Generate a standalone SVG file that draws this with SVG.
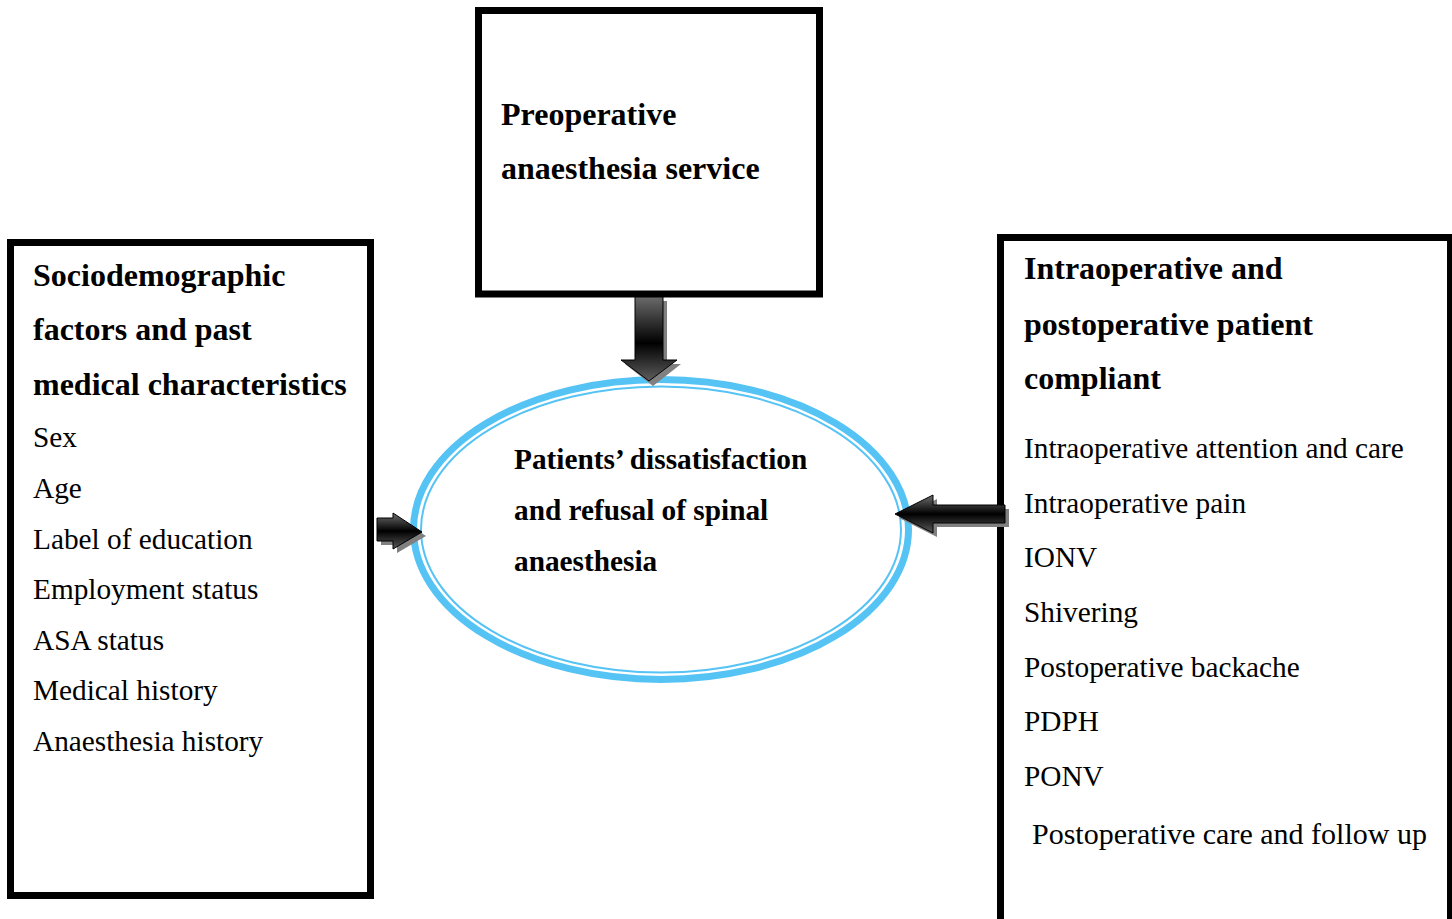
<svg xmlns="http://www.w3.org/2000/svg" width="1452" height="919" viewBox="0 0 1452 919">
<defs>
<linearGradient id="ag" x1="0" y1="0" x2="0" y2="1">
<stop offset="0" stop-color="#6e6e6e"/>
<stop offset="0.5" stop-color="#000"/>
<stop offset="1" stop-color="#5a5a5a"/>
</linearGradient>
<linearGradient id="agv" x1="0" y1="0" x2="0" y2="1">
<stop offset="0" stop-color="#6a6a6a"/>
<stop offset="0.55" stop-color="#000"/>
<stop offset="1" stop-color="#5e5e5e"/>
</linearGradient>
</defs>
<style>
.box{fill:#fff;stroke:#000;stroke-width:7}
.t{font-family:"Liberation Serif","Times New Roman",serif;fill:#000}
.b{font-weight:bold;font-size:32px}
.r{font-size:29.3px}
.e{font-weight:bold;font-size:29.3px}
.sh{fill:#808080}
.ar{stroke:#000;stroke-width:1;stroke-linejoin:miter}
</style>
<rect width="1452" height="919" fill="#fff"/>

<g id="node-preoperative">
<rect class="box" x="478.5" y="10.5" width="341" height="283.5"/>
<text class="t b" x="501" y="125">Preoperative</text>
<text class="t b" x="501" y="179">anaesthesia service</text>
</g>

<g id="node-sociodemographic">
<rect class="box" x="10.5" y="242.5" width="360" height="653"/>
<text class="t b" x="33" y="286">Sociodemographic</text>
<text class="t b" x="33" y="340">factors and past</text>
<text class="t b" x="33" y="395">medical characteristics</text>
<text class="t r" x="33" y="447">Sex</text>
<text class="t r" x="33" y="498">Age</text>
<text class="t r" x="33" y="549">Label of education</text>
<text class="t r" x="33" y="599">Employment status</text>
<text class="t r" x="33" y="650">ASA status</text>
<text class="t r" x="33" y="700">Medical history</text>
<text class="t r" x="33" y="751">Anaesthesia history</text>
</g>

<g id="node-intraoperative">
<rect class="box" x="1000.5" y="237.5" width="450" height="690"/>
<text class="t b" x="1024" y="279">Intraoperative and</text>
<text class="t b" x="1024" y="335">postoperative patient</text>
<text class="t b" x="1024" y="389">compliant</text>
<text class="t r" x="1024" y="458">Intraoperative attention and care</text>
<text class="t r" x="1024" y="513">Intraoperative pain</text>
<text class="t r" x="1024" y="567">IONV</text>
<text class="t r" x="1024" y="622">Shivering</text>
<text class="t r" x="1024" y="677">Postoperative backache</text>
<text class="t r" x="1024" y="731">PDPH</text>
<text class="t r" x="1024" y="786">PONV</text>
<text class="t" x="1032" y="844" font-size="30">Postoperative care and follow up</text>
</g>

<g id="node-outcome">
<ellipse cx="661" cy="529.5" rx="247.5" ry="150" fill="#fff" stroke="#56c3f5" stroke-width="7"/>
<ellipse cx="661" cy="529.5" rx="240" ry="143" fill="none" stroke="#56c3f5" stroke-width="2"/>
<text class="t e" x="514" y="469">Patients’ dissatisfaction</text>
<text class="t e" x="514" y="520">and refusal of spinal</text>
<text class="t e" x="514" y="571">anaesthesia</text>
</g>

<g id="connectors">
<g id="arrow-top">
<polygon class="sh" points="639,301 667,301 667,364 681,364 653,386 625,364 639,364"/>
<polygon class="ar" fill="url(#agv)" points="635,297 663,297 663,360 677,360 649,381 621,360 635,360"/>
</g>
<g id="arrow-left">
<polygon class="sh" points="381,522 397,522 397,517 426,536 397,553 397,545 381,545"/>
<polygon class="ar" fill="url(#ag)" points="377,518 393,518 393,513 422,532 393,549 393,541 377,541"/>
</g>
<g id="arrow-right">
<polygon class="sh" points="1009,509 937,509 937,499 899,518 937,537 937,527 1009,527"/>
<polygon class="ar" fill="url(#ag)" points="1005,505 933,505 933,495 895,514 933,533 933,523 1005,523"/>
</g>
</g>
</svg>
